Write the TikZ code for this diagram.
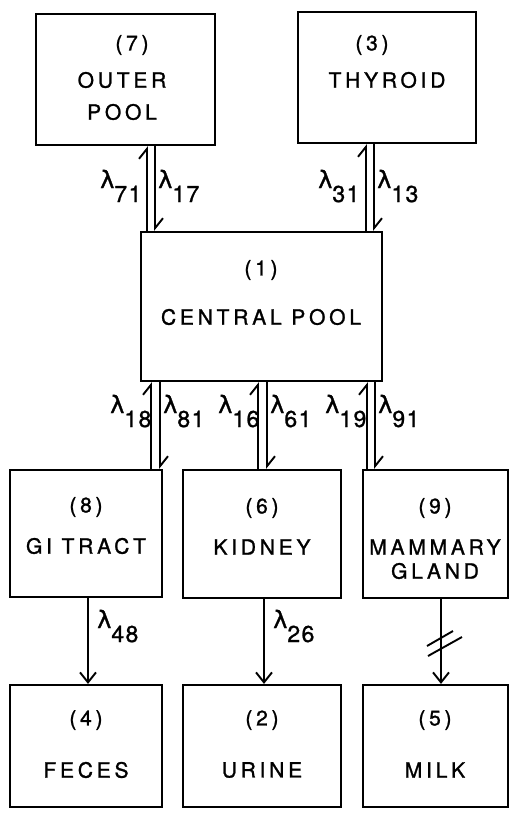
\documentclass[tikz,border=0pt]{standalone}
\usepackage{fontspec}
\setmainfont[LetterSpace=18,FakeBold=1.2]{TeX Gyre Heros}
\newfontfamily\lamfont[FakeBold=1.2]{DejaVu Sans}
\newfontfamily\digfont[LetterSpace=6,FakeBold=1.2]{TeX Gyre Heros}
\usetikzlibrary{arrows.meta}
\newcommand\boxfont{\fontsize{21}{25}\selectfont}
\newcommand\lamlbl[1]{{\lamfont\fontsize{24}{28}\selectfont λ}\raisebox{-14pt}{\digfont\fontsize{23}{26}\selectfont #1}}
\begin{document}
\begin{tikzpicture}[x=1pt,y=-1pt,
  box/.style={draw, line width=2.2pt, inner sep=0pt},
  txt/.style={font=\boxfont, inner sep=0pt, anchor=center},
  lamlab/.style={inner sep=0pt, anchor=base west},
  flow/.style={line width=1.9pt},
  upflow/.style={flow, -{Straight Barb[left,length=10pt,width=16pt]}},
  downflow/.style={flow, -{Straight Barb[left,length=10pt,width=16pt]}},
  single/.style={flow, -{Straight Barb[length=10pt,width=16pt]}}]
\useasboundingbox (0,0) rectangle (517,820);
% boxes
\node[box, minimum width=179pt, minimum height=131pt] (n7) at (125.5,79.5) {};
\node[box, minimum width=178pt, minimum height=131pt] (n3) at (387,77.5) {};
\node[box, minimum width=241pt, minimum height=149pt] (n1) at (261.5,306.5) {};
\node[box, minimum width=152pt, minimum height=127pt] (n8) at (86,533.5) {};
\node[box, minimum width=158pt, minimum height=128pt] (n6) at (262,534) {};
\node[box, minimum width=145pt, minimum height=128pt] (n9) at (435.5,534) {};
\node[box, minimum width=152pt, minimum height=122pt] (n4) at (86,746) {};
\node[box, minimum width=158pt, minimum height=122pt] (n2) at (262,746) {};
\node[box, minimum width=145pt, minimum height=122pt] (n5) at (435.5,746) {};
% texts
\node[txt] (t7a) at (132,45) {(7)};
\node[txt] (t7b) at (122,80) {OUTER};
\node[txt] (t7c) at (122,112) {POOL};
\node[txt] (t3a) at (372,45) {(3)};
\node[txt] (t3b) at (387,80) {THYROID};
\node[txt] (t1a) at (261,270) {(1)};
\node[txt] (t1b) at (261,317) {CENTRAL POOL};
\node[txt] (t8a) at (86,507) {(8)};
\node[txt] (t8b) at (86,546) {GI TRACT};
\node[txt] (t6a) at (262,508) {(6)};
\node[txt] (t6b) at (262,547) {KIDNEY};
\node[txt] (t9a) at (435,508) {(9)};
\node[txt] (t9b) at (435,547) {MAMMARY};
\node[txt] (t9c) at (435,571) {GLAND};
\node[txt] (t4a) at (86,720) {(4)};
\node[txt] (t4b) at (86,770) {FECES};
\node[txt] (t2a) at (262,720) {(2)};
\node[txt] (t2b) at (262,770) {URINE};
\node[txt] (t5a) at (435,720) {(5)};
\node[txt] (t5b) at (435,770) {MILK};
% line positions
\coordinate (x71) at (147,0);
\coordinate (x17) at (155,0);
\coordinate (x31) at (366,0);
\coordinate (x13) at (374,0);
\coordinate (x18) at (151,0);
\coordinate (x81) at (160,0);
\coordinate (x16) at (258,0);
\coordinate (x61) at (267,0);
\coordinate (x19) at (367,0);
\coordinate (x91) at (375,0);
\coordinate (x48) at (88,0);
\coordinate (x26) at (264,0);
\coordinate (x95) at (441,0);
% connectors
\draw[upflow] (n1.north -| x71) -- (n7.south -| x71);
\draw[downflow] (n7.south -| x17) -- (n1.north -| x17);
\draw[upflow] (n1.north -| x31) -- (n3.south -| x31);
\draw[downflow] (n3.south -| x13) -- (n1.north -| x13);
\draw[upflow] (n8.north -| x18) -- (n1.south -| x18);
\draw[downflow] (n1.south -| x81) -- (n8.north -| x81);
\draw[upflow] (n6.north -| x16) -- (n1.south -| x16);
\draw[downflow] (n1.south -| x61) -- (n6.north -| x61);
\draw[upflow] (n9.north -| x19) -- (n1.south -| x19);
\draw[downflow] (n1.south -| x91) -- (n9.north -| x91);
\draw[single] (n8.south -| x48) -- (n4.north -| x48);
\draw[single] (n6.south -| x26) -- (n2.north -| x26);
\draw[single] (n9.south -| x95) -- (n5.north -| x95);
% break marks on milk line
\draw[flow] (427,646) -- (453,631);
\draw[flow] (428,656) -- (462,637);
% labels
\node[lamlab] (l71) at (100,188) {\lamlbl{71}};
\node[lamlab] (l17) at (158,188) {\lamlbl{17}};
\node[lamlab] (l31) at (318,188) {\lamlbl{31}};
\node[lamlab] (l13) at (377,188) {\lamlbl{13}};
\node[lamlab] (l18) at (110,413) {\lamlbl{18}};
\node[lamlab] (l81) at (163,413) {\lamlbl{81}};
\node[lamlab] (l16) at (218,413) {\lamlbl{16}};
\node[lamlab] (l61) at (270,413) {\lamlbl{61}};
\node[lamlab] (l19) at (325,413) {\lamlbl{19}};
\node[lamlab] (l91) at (378,413) {\lamlbl{91}};
\node[lamlab] (l48) at (97,628) {\lamlbl{48}};
\node[lamlab] (l26) at (273,628) {\lamlbl{26}};
\end{tikzpicture}
\end{document}
